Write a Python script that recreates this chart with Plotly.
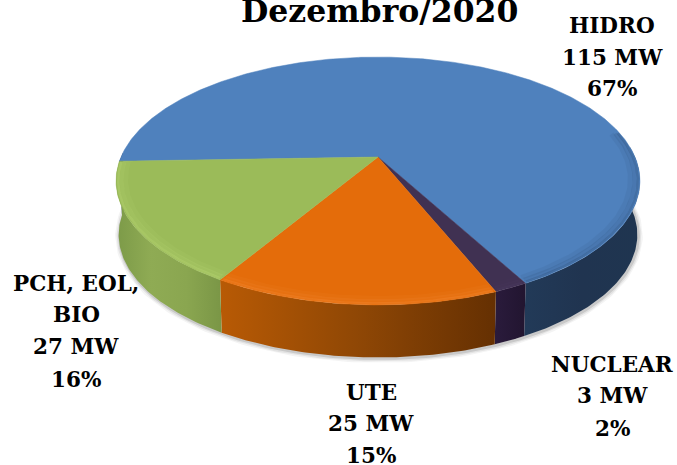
import numpy as np
import plotly.graph_objects as go

# --- data ---
categories = ["HIDRO", "NUCLEAR", "UTE", "PCH, EOL, BIO"]
values_mw = [115, 3, 25, 27]
percent_labels = ["67%", "2%", "15%", "16%"]
top_colors = ["#4F81BD", "#403152", "#E46C0A", "#9BBB59"]
side_scales = [
    ["#223A58", "#203450", "#1F3550"],
    ["#2A1B3C", "#221530"],
    ["#B85A05", "#8F4705", "#653002"],
    ["#7C9A48", "#8FAB54", "#8AA650", "#7A9646"],
]
rim_colors = ["#2F4F78", "#4C3A62", "#F58A35", "#BEDC7A"]
title_text = "Dezembro/2020"

# --- projection of the pie disc onto the page (pixel space) ---
W, H = 677, 465
CX, CY, A, B, P = 378, 157, 257, 119.3, 0.1935
DEPTH = 54
START = 268.0


def project(theta_deg, r=1.0, drop=0.0, shrink=1.0):
    t = np.radians(theta_deg)
    u, v = r * np.sin(t), -r * np.cos(t)
    w = 1 - P * v
    return CX + shrink * A * u / w, CY + drop + shrink * B * v / w


fracs = np.array(values_mw) / sum(values_mw) * 360
ends = START + np.cumsum(fracs)
starts = ends - fracs

fig = go.Figure()


def line(x, y, color, width):
    fig.add_trace(go.Scatter(x=x, y=y, mode="lines", hoverinfo="skip",
                             line=dict(color=color, width=width)))


# soft shadow under the disc
arc = np.linspace(85, 272, 200)
sx, sy = project(arc, drop=DEPTH + 1, shrink=0.99)
for wd, al in [(9, 0.05), (6, 0.08), (3, 0.14)]:
    line(sx + 1, sy, f"rgba(40,40,40,{al})", wd)

# side walls: only the part of each slice that faces the viewer
for a0, a1, scale in zip(starts, ends, side_scales):
    ranges = [(a0, a1), (a0 - 360, a1 - 360)]
    for lo, hi in ranges:
        lo2, hi2 = max(lo, 85), min(hi, 272)
        if hi2 <= lo2:
            continue
        th = np.linspace(lo2, hi2, 80)
        x1, y1 = project(th)
        x2, y2 = project(th[::-1], drop=DEPTH, shrink=0.99)
        stops = [[i / (len(scale) - 1), c] for i, c in enumerate(scale)]
        fig.add_trace(go.Scatter(
            x=np.r_[x1, x2, x1[0]], y=np.r_[y1, y2, y1[0]], mode="lines", fill="toself",
            line=dict(width=0), hoverinfo="skip",
            fillgradient=dict(type="horizontal", colorscale=stops)))

# top faces
for a0, a1, col in zip(starts, ends, top_colors):
    th = np.linspace(a0, a1, max(int(a1 - a0) * 2, 20))
    x, y = project(th)
    fig.add_trace(go.Scatter(x=np.r_[CX, x, CX], y=np.r_[CY, y, CY], mode="lines", fill="toself",
                             fillcolor=col, line=dict(width=0.5, color=col), hoverinfo="skip"))

# bevel highlight on the front rim, fading inwards
for a0, a1, col in zip(starts, ends, rim_colors):
    for lo, hi in [(a0, a1), (a0 - 360, a1 - 360)]:
        lo2, hi2 = max(lo + 0.4, 78), min(hi - 0.4, 271)
        if hi2 - lo2 < 5:
            continue
        th = np.linspace(lo2, hi2, 100)
        for r, wd, op in [(0.965, 5, 0.10), (0.98, 4, 0.18), (0.992, 2.5, 0.35)]:
            x, y = project(th, r=r)
            fig.add_trace(go.Scatter(x=x, y=y, mode="lines", opacity=op, hoverinfo="skip",
                                     line=dict(color=col, width=wd)))

FONT = dict(family="DejaVu Serif", color="#000000")


def text(x, y, s, size):
    fig.add_annotation(x=x, y=y, text=f"<b>{s}</b>", showarrow=False, xanchor="center", yanchor="middle",
                       font=dict(size=size, **FONT))


text(379, 10, title_text, 31.5)

label_lines = [
    (612, [25, 57, 88], [categories[0], f"{values_mw[0]} MW", percent_labels[0]]),
    (612, [364, 395, 428], [categories[1], f"{values_mw[1]} MW", percent_labels[1]]),
    (371, [392, 423, 455], [categories[2], f"{values_mw[2]} MW", percent_labels[2]]),
    (76, [283, 314, 346, 379], ["PCH, EOL,", "BIO", f"{values_mw[3]} MW", percent_labels[3]]),
]
for x, ys, lines in label_lines:
    for y, s in zip(ys, lines):
        text(x, y, s, 21.5)

fig.update_layout(
    width=W, height=H, margin=dict(l=0, r=0, t=0, b=0), showlegend=False,
    paper_bgcolor="white", plot_bgcolor="white",
    xaxis=dict(range=[0, W], visible=False, fixedrange=True),
    yaxis=dict(range=[H, 0], visible=False, fixedrange=True),
)
fig.write_html("out.html", config={"displayModeBar": False},
               post_script="document.body.style.margin='0';document.body.style.overflow='hidden';")
